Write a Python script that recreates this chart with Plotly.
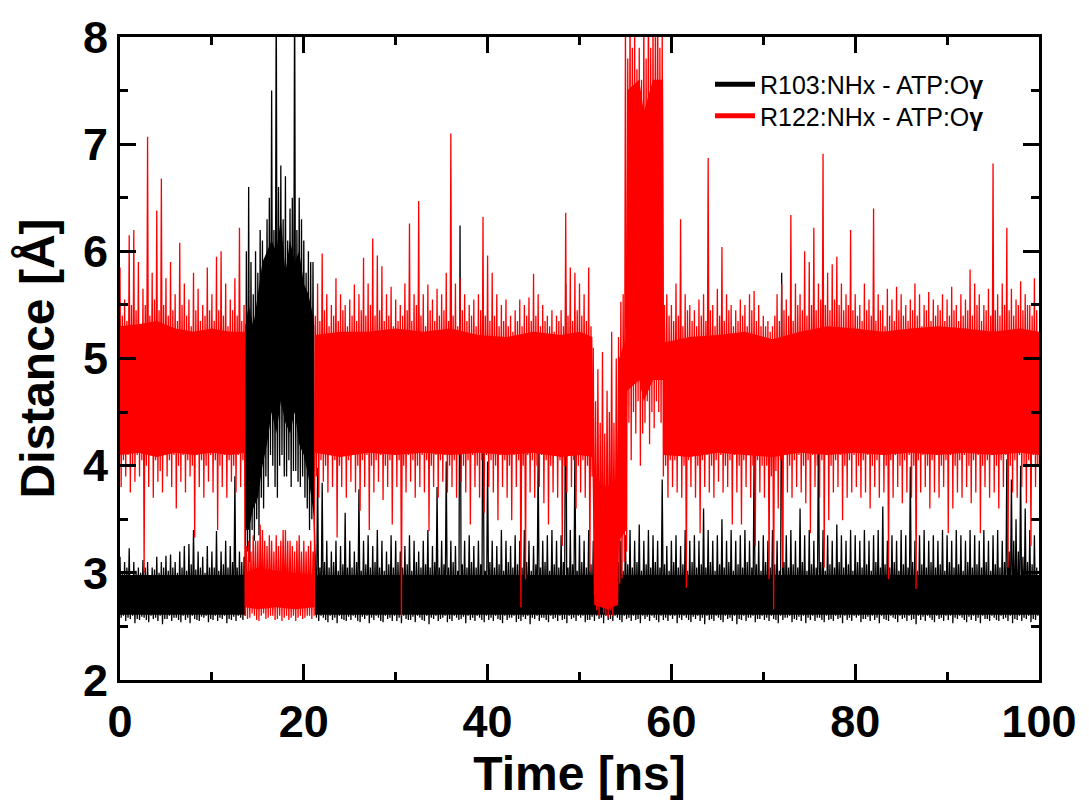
import numpy as np
import plotly.graph_objects as go

# ---------------- data ----------------
# dense core band of each trajectory (breakpoints in ns, lower / upper edge in Å)
red_core_t  = [0, 2, 4, 6, 8, 10, 12, 13.6, 13.65, 15, 17, 19, 21.15, 21.2, 24, 27, 30, 33, 36, 39, 42, 45, 48, 50,
               51.4, 51.6, 53, 54.2, 54.3, 55.1, 55.2, 56.5, 57.0, 58.0, 59.1, 59.2, 62, 65, 68, 71, 74, 77, 80,
               83, 86, 89, 92, 95, 98, 100]
red_core_lo = [4.1, 4.12, 4.08, 4.12, 4.1, 4.12, 4.1, 4.12, 2.68, 2.66, 2.68, 2.66, 2.68, 4.12, 4.08, 4.12, 4.1,
               4.12, 4.1, 4.12, 4.1, 4.12, 4.08, 4.1, 4.08, 2.7, 2.66, 2.7, 3.3, 3.4, 4.7, 4.8, 4.6, 4.8, 4.8, 4.1,
               4.08, 4.12, 4.1, 4.08, 4.12, 4.1, 4.12, 4.1, 4.12, 4.1, 4.12, 4.1, 4.12, 4.1]
red_core_hi = [5.3, 5.32, 5.35, 5.28, 5.25, 5.28, 5.25, 5.25, 3.0, 3.05, 3.02, 3.0, 2.98, 5.22, 5.25, 5.25, 5.28,
               5.25, 5.28, 5.22, 5.2, 5.25, 5.22, 5.25, 5.2, 3.9, 3.8, 3.9, 5.0, 5.2, 7.5, 7.6, 7.3, 7.6, 7.6, 5.15,
               5.2, 5.22, 5.25, 5.18, 5.25, 5.3, 5.28, 5.25, 5.28, 5.3, 5.28, 5.25, 5.28, 5.25]

black_core_t  = [0, 13.6, 13.65, 14, 14.5, 15, 15.5, 16, 16.5, 17, 17.5, 18, 18.5, 19, 19.5, 20, 20.5, 21, 21.15,
                 21.2, 100]
black_core_lo = [2.61, 2.61, 3.4, 3.4, 3.6, 3.7, 4.0, 4.2, 4.5, 4.3, 4.6, 4.4, 4.3, 4.5, 4.2, 4.1, 3.9, 3.6, 3.5,
                 2.61, 2.61]
black_core_hi = [2.98, 2.98, 5.3, 5.5, 5.3, 5.6, 5.9, 6.0, 6.1, 6.0, 6.3, 5.8, 6.1, 5.9, 6.0, 5.7, 5.6, 5.4, 5.3,
                 2.98, 2.98]

# upper / lower excursions in every 0.25 ns slot (Å), 0 ns ... 99.75 ns (one row = 5 ns)
red_hi = [
    5.85, 5.4, 5.55, 5.35, 6.15, 5.5, 6.2, 5.45, 5.9, 5.3, 5.65, 5.5, 7.07, 5.4, 5.8, 5.55, 6.38, 5.45, 6.68, 5.5,
    5.75, 5.4, 5.9, 5.45, 5.6, 5.35, 6.08, 5.5, 5.7, 5.4, 5.55, 5.3, 5.8, 5.45, 5.65, 5.35, 5.5, 5.4, 5.85, 5.45,
    5.6, 5.35, 5.95, 5.45, 6.0, 5.4, 5.7, 5.3, 5.55, 5.45, 5.75, 5.4, 6.22, 5.35, 5.5, 3.25, 3.3, 3.2, 3.35, 3.3,
    3.3, 3.45, 3.4, 3.3, 3.25, 3.35, 3.3, 3.2, 3.35, 3.25, 3.3, 3.4, 3.4, 3.3, 3.3, 3.25, 3.2, 3.3, 3.35, 3.2,
    3.3, 3.2, 3.25, 3.3, 3.2, 5.4, 5.7, 5.35, 5.98, 5.45, 5.6, 5.3, 5.5, 5.4, 5.75, 5.35, 5.6, 5.45, 5.5, 5.3,
    5.55, 5.4, 5.69, 5.35, 5.6, 5.45, 5.94, 5.4, 5.7, 5.5, 6.12, 5.4, 5.96, 5.45, 5.86, 5.35, 5.6, 5.4, 5.67, 5.3,
    5.55, 5.35, 5.5, 5.4, 5.7, 5.45, 6.26, 5.35, 5.6, 5.5, 6.47, 5.4, 5.6, 5.3, 5.69, 5.45, 5.55, 5.35, 5.65, 5.4,
    5.6, 5.45, 5.8, 5.35, 7.1, 5.4, 5.7, 5.3, 5.75, 5.45, 5.6, 5.35, 5.5, 5.4, 5.55, 5.3, 5.6, 5.45, 6.32, 5.4,
    5.96, 5.35, 5.8, 5.4, 5.6, 5.3, 5.5, 5.35, 5.55, 5.3, 5.4, 5.25, 5.45, 5.35, 5.55, 5.3, 5.5, 5.4, 5.57, 5.35,
    5.79, 5.4, 5.6, 5.3, 5.5, 5.35, 5.4, 5.3, 5.45, 5.25, 5.4, 5.35, 5.45, 5.3, 6.36, 5.4, 5.85, 5.35, 5.8, 5.45,
    5.7, 5.4, 5.6, 5.35, 5.85, 5.3, 5.1, 4.6, 4.9, 4.4, 5.06, 4.3, 4.7, 4.5, 5.25, 4.4, 5.0, 5.2, 5.53, 5.6,
    8.2, 7.8, 8.4, 7.9, 8.1, 7.7, 7.9, 7.6, 8.3, 7.8, 8.5, 7.9, 8.2, 8.0, 8.6, 7.9, 8.1, 5.5, 5.6, 5.4,
    5.5, 5.35, 5.7, 5.4, 6.3, 5.3, 5.6, 5.45, 5.5, 5.35, 5.45, 5.3, 5.55, 5.4, 5.6, 5.35, 6.87, 5.45, 5.5, 5.3,
    5.65, 5.4, 6.04, 5.35, 5.6, 5.45, 5.5, 5.3, 5.45, 5.35, 5.55, 5.4, 5.5, 5.3, 5.6, 5.45, 5.63, 5.35, 5.5, 5.3,
    5.4, 5.3, 5.35, 5.25, 5.3, 5.4, 5.6, 5.35, 5.7, 5.45, 5.55, 5.4, 6.34, 5.35, 5.7, 5.5, 5.6, 5.45, 6.0, 5.4,
    5.9, 5.5, 6.22, 5.45, 5.7, 5.55, 6.91, 5.5, 5.8, 5.45, 5.88, 5.55, 5.95, 5.5, 5.7, 5.45, 5.6, 5.5, 6.2, 5.45,
    5.6, 5.4, 5.5, 5.35, 5.7, 5.45, 5.55, 5.4, 6.4, 5.35, 5.6, 5.45, 5.5, 5.3, 5.65, 5.4, 5.55, 5.35, 5.67, 5.45,
    5.6, 5.4, 5.5, 5.35, 5.55, 5.45, 5.7, 5.4, 5.6, 5.3, 5.5, 5.45, 5.62, 5.35, 5.55, 5.4, 5.5, 5.45, 5.6, 5.35,
    5.55, 5.4, 5.67, 5.45, 5.5, 5.35, 5.6, 5.4, 5.55, 5.45, 5.83, 5.4, 5.7, 5.5, 5.6, 5.35, 5.5, 5.45, 5.65, 5.4,
    6.82, 5.45, 5.6, 5.4, 5.7, 5.5, 6.22, 5.45, 5.65, 5.4, 5.55, 5.5, 5.72, 5.45, 5.6, 5.5, 5.5, 5.4, 5.75, 5.45,
]
red_lo = [
    3.8, 4.05, 3.9, 4.1, 3.75, 4.0, 3.85, 4.1, 3.9, 4.05, 3.0, 4.0, 3.8, 4.1, 3.7, 4.05, 3.85, 3.95, 3.75, 4.1,
    3.9, 4.05, 3.8, 4.1, 3.6, 4.0, 3.85, 4.1, 3.75, 4.05, 3.9, 4.0, 3.33, 4.1, 3.8, 4.05, 3.7, 4.0, 3.85, 4.1,
    3.75, 4.05, 3.4, 4.0, 3.8, 4.1, 3.7, 4.05, 3.85, 4.0, 3.75, 4.1, 3.8, 4.05, 2.6, 2.57, 2.58, 2.62, 2.6, 2.56,
    2.55, 2.6, 2.62, 2.57, 2.58, 2.6, 2.6, 2.56, 2.57, 2.6, 2.55, 2.58, 2.6, 2.56, 2.58, 2.6, 2.55, 2.58, 2.6, 2.57,
    2.58, 2.6, 2.6, 2.57, 2.6, 3.9, 3.7, 4.05, 3.85, 4.0, 3.75, 4.1, 3.8, 4.05, 3.33, 4.0, 3.8, 4.1, 3.7, 4.05,
    3.85, 4.1, 3.75, 4.0, 3.58, 4.05, 3.8, 4.1, 3.4, 4.0, 3.75, 4.05, 3.85, 4.1, 3.68, 4.0, 3.8, 4.05, 3.45, 4.1,
    3.8, 4.05, 2.6, 4.0, 3.75, 4.1, 3.85, 4.05, 3.7, 4.0, 3.8, 4.1, 3.75, 4.05, 3.39, 4.0, 3.8, 4.1, 3.7, 4.05,
    3.85, 4.1, 3.75, 4.0, 3.8, 4.05, 3.7, 4.1, 3.85, 4.0, 3.75, 4.05, 3.45, 4.1, 3.8, 4.0, 3.7, 4.05, 3.56, 4.1,
    3.8, 4.05, 3.75, 4.0, 3.49, 4.1, 3.8, 4.05, 3.7, 4.0, 3.49, 4.1, 3.8, 4.05, 2.68, 4.0, 2.94, 4.1, 3.75, 4.05,
    3.7, 4.0, 3.8, 4.1, 3.65, 4.05, 3.45, 4.0, 3.75, 4.1, 3.7, 4.05, 3.25, 4.0, 3.75, 4.1, 3.8, 4.05, 3.6, 4.0,
    3.75, 4.05, 3.7, 4.0, 3.01, 3.9, 2.8, 2.65, 2.6, 2.7, 2.62, 2.6, 2.58, 2.65, 2.6, 2.7, 2.75, 2.9, 2.95, 3.1,
    3.2, 4.4, 4.05, 4.5, 4.3, 4.6, 4.0, 4.3, 4.4, 4.6, 4.2, 4.5, 4.35, 4.6, 4.5, 4.4, 3.9, 4.0, 3.7, 4.05,
    3.8, 4.05, 3.75, 4.1, 3.7, 4.0, 2.86, 4.05, 3.8, 4.1, 3.7, 4.0, 3.37, 4.05, 3.8, 4.1, 3.75, 4.0, 3.7, 4.05,
    3.85, 4.1, 3.75, 4.0, 3.8, 4.05, 3.45, 4.1, 3.75, 4.0, 3.45, 4.05, 3.8, 4.1, 3.7, 4.0, 3.25, 4.05, 3.75, 4.0,
    3.7, 4.0, 2.94, 3.9, 2.66, 3.95, 3.6, 4.05, 3.05, 4.1, 3.75, 4.0, 3.7, 4.05, 3.8, 4.1, 3.75, 4.0, 3.65, 4.05,
    3.37, 4.1, 3.8, 4.0, 3.7, 4.05, 3.05, 4.1, 3.49, 4.0, 3.75, 4.05, 3.8, 4.1, 3.49, 4.0, 3.7, 4.05, 3.75, 4.1,
    3.8, 4.0, 3.7, 4.05, 3.75, 4.1, 3.6, 4.0, 3.8, 4.05, 3.7, 4.1, 3.75, 4.0, 2.94, 4.05, 3.7, 4.1, 3.8, 4.0,
    3.65, 4.05, 3.75, 4.1, 3.7, 4.0, 2.85, 4.05, 3.75, 4.1, 3.8, 4.0, 3.6, 4.05, 3.75, 4.1, 3.7, 4.0, 3.8, 4.05,
    3.37, 4.1, 3.6, 4.0, 3.75, 4.05, 3.7, 4.1, 3.8, 4.0, 3.65, 4.05, 3.75, 4.1, 3.37, 4.0, 3.8, 4.05, 3.7, 4.1,
    3.75, 4.0, 3.6, 4.05, 3.8, 4.1, 3.05, 4.0, 3.75, 4.05, 3.7, 4.1, 3.8, 4.0, 3.65, 4.05, 3.25, 4.1, 3.8, 4.0,
]
black_hi = [
    3.15, 3.0, 3.1, 3.05, 3.23, 2.98, 3.1, 3.02, 3.05, 3.0, 3.12, 3.05, 3.1, 2.98, 3.05, 3.03, 3.15, 3.0, 3.1, 3.05,
    3.16, 3.02, 3.17, 3.05, 3.1, 3.0, 3.2, 3.05, 3.25, 3.02, 3.27, 3.08, 3.4, 3.03, 3.2, 3.05, 3.15, 3.0, 3.25, 3.05,
    3.2, 3.05, 3.39, 3.02, 3.2, 3.08, 3.3, 3.05, 3.25, 3.1, 3.9, 3.05, 3.2, 3.1, 3.15, 6.0, 6.6, 5.9, 5.6, 6.0,
    5.8, 6.2, 6.1, 5.9, 6.3, 6.5, 7.5, 6.2, 8.6, 6.6, 6.8, 6.3, 6.7, 6.1, 6.4, 6.5, 8.6, 6.2, 6.5, 6.3,
    6.1, 5.8, 6.0, 5.9, 5.9, 3.1, 3.98, 3.05, 3.84, 3.1, 3.3, 3.05, 3.2, 3.1, 3.3, 3.02, 3.25, 3.08, 3.56, 3.05,
    3.3, 3.05, 3.2, 3.1, 3.78, 3.02, 3.3, 3.08, 3.35, 3.05, 3.25, 3.1, 3.4, 3.05, 3.3, 3.02, 3.2, 3.08, 3.35, 3.05,
    3.3, 3.1, 3.2, 3.05, 3.25, 3.08, 3.35, 3.02, 3.3, 3.1, 3.2, 3.05, 3.3, 3.08, 3.4, 3.05, 3.25, 3.1, 3.8, 3.05,
    3.3, 3.08, 4.04, 3.05, 3.3, 3.1, 3.25, 3.02, 6.24, 3.08, 3.3, 3.05, 3.35, 3.1, 3.25, 3.05, 3.3, 3.08, 5.2, 3.02,
    4.04, 3.1, 3.3, 3.05, 3.25, 3.08, 3.4, 3.02, 3.3, 3.1, 3.25, 3.05, 3.35, 3.08, 3.3, 3.05, 3.4, 3.1, 3.3, 3.02,
    3.25, 3.08, 4.12, 3.05, 3.3, 3.1, 3.35, 3.02, 3.4, 3.08, 3.3, 3.05, 3.35, 3.1, 5.7, 3.05, 3.4, 3.08, 4.15, 3.02,
    3.35, 3.1, 3.3, 3.05, 3.4, 3.08, 3.3, 3.02, 3.25, 3.1, 3.3, 3.05, 3.35, 3.08, 3.3, 3.05, 3.4, 3.1, 3.3, 3.02,
    3.35, 3.08, 3.4, 3.05, 3.3, 3.1, 3.45, 3.02, 3.3, 3.08, 3.4, 3.05, 3.35, 3.1, 3.3, 3.05, 3.87, 3.08, 3.25, 3.02,
    3.3, 3.1, 3.35, 3.05, 3.25, 3.08, 3.4, 3.02, 3.3, 3.1, 3.35, 3.05, 3.3, 3.08, 3.6, 3.05, 3.4, 3.1, 3.3, 3.02,
    3.35, 3.08, 3.5, 3.05, 3.3, 3.1, 3.4, 3.02, 3.3, 3.08, 3.35, 3.05, 3.4, 3.1, 3.3, 3.05, 4.14, 3.08, 3.3, 3.02,
    3.35, 3.1, 3.3, 3.05, 3.4, 3.08, 3.3, 3.02, 5.8, 3.1, 3.35, 3.05, 3.4, 3.08, 3.3, 3.05, 3.6, 3.1, 3.35, 3.02,
    3.4, 3.08, 3.3, 3.05, 4.33, 3.1, 3.4, 3.02, 3.35, 3.08, 3.3, 3.05, 3.45, 3.1, 3.35, 3.05, 3.3, 3.08, 3.4, 3.02,
    3.35, 3.1, 3.3, 3.05, 3.4, 3.08, 3.3, 3.02, 3.35, 3.1, 3.4, 3.05, 3.62, 3.08, 3.3, 3.05, 3.35, 3.1, 3.3, 3.02,
    3.4, 3.08, 3.35, 3.05, 3.99, 3.1, 3.3, 3.02, 3.35, 3.08, 3.4, 3.05, 3.3, 3.1, 3.35, 3.05, 3.3, 3.08, 3.4, 3.02,
    3.35, 3.1, 3.3, 3.05, 3.4, 3.08, 3.35, 3.02, 3.3, 3.1, 3.4, 3.05, 3.35, 3.08, 3.3, 3.05, 3.4, 3.1, 3.3, 3.02,
    3.35, 3.08, 3.4, 3.05, 3.3, 3.1, 4.06, 3.2, 3.87, 3.3, 3.5, 3.2, 4.0, 3.15, 3.6, 3.1, 3.4, 3.08, 3.35, 3.05,
]
black_lo = [
    2.58, 2.6, 2.55, 2.58, 2.57, 2.6, 2.53, 2.57, 2.56, 2.59, 2.58, 2.56, 2.54, 2.6, 2.57, 2.58, 2.55, 2.6, 2.52, 2.57,
    2.57, 2.6, 2.55, 2.58, 2.58, 2.56, 2.54, 2.6, 2.56, 2.58, 2.53, 2.6, 2.57, 2.56, 2.55, 2.59, 2.58, 2.6, 2.54, 2.57,
    2.56, 2.6, 2.55, 2.58, 2.57, 2.6, 2.53, 2.57, 2.56, 2.59, 2.55, 2.6, 2.58, 2.56, 2.6, 3.2, 3.1, 3.4, 3.3, 3.5,
    3.35, 3.7, 3.6, 3.9, 3.8, 4.1, 4.0, 3.8, 3.7, 4.0, 4.1, 3.9, 3.9, 4.05, 3.8, 3.95, 3.95, 3.85, 3.8, 3.9,
    3.7, 3.6, 3.4, 3.5, 3.5, 2.58, 2.55, 2.6, 2.58, 2.56, 2.54, 2.6, 2.56, 2.58, 2.53, 2.6, 2.57, 2.56, 2.55, 2.59,
    2.56, 2.6, 2.58, 2.55, 2.54, 2.59, 2.57, 2.6, 2.53, 2.58, 2.56, 2.6, 2.58, 2.55, 2.54, 2.6, 2.57, 2.58, 2.55, 2.6,
    2.55, 2.58, 2.53, 2.6, 2.57, 2.56, 2.56, 2.59, 2.54, 2.6, 2.58, 2.56, 2.55, 2.6, 2.52, 2.58, 2.57, 2.6, 2.55, 2.57,
    2.58, 2.6, 2.54, 2.57, 2.55, 2.6, 2.58, 2.56, 2.57, 2.59, 2.53, 2.6, 2.56, 2.58, 2.55, 2.6, 2.58, 2.56, 2.54, 2.6,
    2.56, 2.58, 2.55, 2.6, 2.57, 2.56, 2.53, 2.6, 2.56, 2.58, 2.58, 2.6, 2.54, 2.57, 2.55, 2.59, 2.57, 2.6, 2.52, 2.58,
    2.57, 2.6, 2.55, 2.58, 2.58, 2.56, 2.54, 2.6, 2.57, 2.58, 2.55, 2.6, 2.56, 2.57, 2.53, 2.6, 2.57, 2.58, 2.55, 2.6,
    2.58, 2.6, 2.54, 2.56, 2.56, 2.59, 2.55, 2.6, 2.57, 2.58, 2.53, 2.6, 2.56, 2.57, 2.55, 2.6, 2.58, 2.56, 2.54, 2.6,
    2.57, 2.58, 2.55, 2.6, 2.56, 2.57, 2.53, 2.6, 2.57, 2.59, 2.55, 2.6, 2.58, 2.56, 2.54, 2.6, 2.56, 2.58, 2.55, 2.6,
    2.57, 2.6, 2.53, 2.58, 2.56, 2.6, 2.58, 2.56, 2.54, 2.59, 2.57, 2.6, 2.55, 2.58, 2.52, 2.6, 2.56, 2.57, 2.55, 2.6,
    2.58, 2.56, 2.54, 2.6, 2.57, 2.58, 2.55, 2.6, 2.52, 2.57, 2.56, 2.6, 2.55, 2.58, 2.58, 2.6, 2.54, 2.57, 2.57, 2.6,
    2.56, 2.58, 2.55, 2.6, 2.57, 2.56, 2.53, 2.6, 2.56, 2.58, 2.58, 2.6, 2.54, 2.57, 2.56, 2.59, 2.55, 2.6, 2.53, 2.58,
    2.56, 2.6, 2.55, 2.58, 2.58, 2.56, 2.54, 2.6, 2.56, 2.57, 2.55, 2.6, 2.57, 2.58, 2.53, 2.6, 2.56, 2.58, 2.55, 2.6,
    2.58, 2.6, 2.54, 2.57, 2.57, 2.59, 2.55, 2.6, 2.56, 2.58, 2.53, 2.6, 2.57, 2.56, 2.55, 2.6, 2.58, 2.57, 2.54, 2.6,
    2.57, 2.58, 2.55, 2.6, 2.56, 2.57, 2.52, 2.6, 2.56, 2.59, 2.55, 2.6, 2.58, 2.56, 2.54, 2.6, 2.57, 2.58, 2.55, 2.6,
    2.56, 2.6, 2.53, 2.58, 2.57, 2.6, 2.58, 2.56, 2.54, 2.59, 2.56, 2.6, 2.55, 2.58, 2.53, 2.6, 2.57, 2.57, 2.55, 2.6,
    2.58, 2.56, 2.55, 2.6, 2.57, 2.58, 2.55, 2.6, 2.53, 2.57, 2.56, 2.6, 2.55, 2.58, 2.57, 2.6, 2.54, 2.57, 2.56, 2.6,
]

slot_ns = 0.25
series = [
    ("R103:NHx - ATP:O<b>γ</b>", "#000000", black_core_t, black_core_lo, black_core_hi, black_hi, black_lo, "legend", 0.926),
    ("R122:NHx - ATP:O<b>γ</b>", "#ff0000", red_core_t, red_core_lo, red_core_hi, red_hi, red_lo, "legend2", 0.877),
]

fig = go.Figure()
legend_layout = {}
for name, color, ct, clo, chi, ehi, elo, leg, leg_y in series:
    fig.add_trace(go.Scatter(x=ct, y=clo, mode="lines", line=dict(width=0, color=color),
                             showlegend=False, hoverinfo="skip"))
    fig.add_trace(go.Scatter(x=ct, y=chi, mode="lines", line=dict(width=0, color=color),
                             fill="tonexty", fillcolor=color, showlegend=False, hoverinfo="skip"))
    n = min(len(ehi), len(elo))
    t = np.arange(n) * slot_ns
    xs = np.empty(2 * n)
    ys = np.empty(2 * n)
    xs[0::2] = t
    xs[1::2] = t + slot_ns / 2
    ys[0::2] = ehi[:n]
    ys[1::2] = elo[:n]
    fig.add_trace(go.Scatter(x=xs, y=ys, mode="lines", line=dict(width=1.3, color=color),
                             showlegend=False, hoverinfo="skip"))
    fig.add_trace(go.Scatter(x=[None], y=[None], mode="lines", name=name, legend=leg,
                             line=dict(width=5, color=color)))
    legend_layout[leg] = dict(x=0.642, y=leg_y, xanchor="left", yanchor="middle",
                              bgcolor="rgba(0,0,0,0)", itemwidth=40,
                              font=dict(family="Liberation Sans, Arial", size=25, color="black"))

axis_common = dict(
    showline=True, linewidth=3, linecolor="black", mirror="allticks",
    ticks="inside", ticklen=16, tickwidth=3, tickcolor="black",
    showgrid=False, zeroline=False,
    tickfont=dict(family="Liberation Sans, Arial", size=45, color="black", weight="bold"),
)

fig.update_xaxes(range=[0, 100], dtick=20, tick0=0,
                 minor=dict(ticks="inside", ticklen=8, tickwidth=3, dtick=10, tickcolor="black", showgrid=False),
                 title=dict(text="Time [ns]", standoff=4,
                            font=dict(family="Liberation Sans, Arial", size=48, color="black", weight="bold")),
                 **axis_common)
fig.update_yaxes(range=[2, 8], dtick=1, tick0=2,
                 minor=dict(ticks="inside", ticklen=8, tickwidth=3, dtick=0.5, tickcolor="black", showgrid=False),
                 title=dict(text="Distance [Å]", standoff=14,
                            font=dict(family="Liberation Sans, Arial", size=48, color="black", weight="bold")),
                 **axis_common)

fig.update_layout(
    width=1089, height=800,
    margin=dict(l=120, r=41, t=29, b=120),
    paper_bgcolor="white", plot_bgcolor="white",
    showlegend=True,
    **legend_layout,
)

fig.write_html("out.html")
